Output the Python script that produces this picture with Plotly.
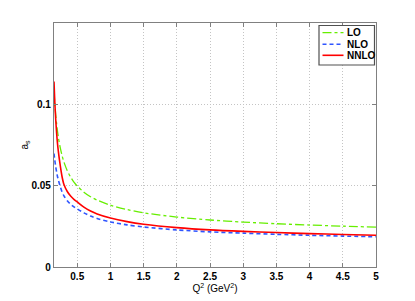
import plotly.graph_objects as go

# Q^2 sample points (GeV^2)
q2 = [0.15, 0.16, 0.175, 0.19, 0.2, 0.215, 0.24, 0.27, 0.3, 0.35, 0.4, 0.45, 0.5,
      0.6, 0.7, 0.8, 1.0, 1.25, 1.5, 2.0, 2.5, 3.0, 3.5, 4.0, 4.5, 5.0]

lo = [0.1080, 0.1016, 0.0939, 0.0878, 0.0844, 0.0800, 0.0741, 0.0687, 0.0645, 0.0592,
      0.0553, 0.0522, 0.0498, 0.0460, 0.0432, 0.0411, 0.0380, 0.0353, 0.0333, 0.0307,
      0.0289, 0.0276, 0.0266, 0.0258, 0.0251, 0.0245]

nlo = [0.0697, 0.0663, 0.0619, 0.0582, 0.0561, 0.0535, 0.0500, 0.0463, 0.0437, 0.0407,
       0.0386, 0.0370, 0.0357, 0.0333, 0.0313, 0.0298, 0.0277, 0.0259, 0.0246, 0.0228,
       0.0216, 0.0208, 0.0201, 0.0195, 0.0190, 0.0186]

nnlo = [0.1140, 0.1034, 0.0913, 0.0821, 0.0771, 0.0712, 0.0635, 0.0558, 0.0507, 0.0464,
        0.0436, 0.0416, 0.0400, 0.0368, 0.0344, 0.0326, 0.0301, 0.0279, 0.0263, 0.0242,
        0.0228, 0.0219, 0.0212, 0.0205, 0.0200, 0.0195]

series_names = ["LO", "NLO", "NNLO"]
x_ticks = [0.5, 1, 1.5, 2, 2.5, 3, 3.5, 4, 4.5, 5]
x_tick_labels = ["0.5", "1", "1.5", "2", "2.5", "3", "3.5", "4", "4.5", "5"]
y_ticks = [0, 0.05, 0.1]
y_tick_labels = ["0", "0.05", "0.1"]

colors = ["#66EE00", "#2F55FF", "#FF0000"]
dashes = ["dashdot", "4px,3px", "solid"]
widths = [1.3, 1.6, 1.6]

fig = go.Figure()
for name, ys, c, d, w in zip(series_names, [lo, nlo, nnlo], colors, dashes, widths):
    fig.add_trace(go.Scatter(x=q2, y=ys, mode="lines", name=name, showlegend=False,
                             line=dict(color=c, dash=d, width=w, shape="spline",
                                       smoothing=0.8)))

font_b = "Liberation Sans"
axis_common = dict(showline=True, linecolor="#808080", linewidth=1.3, mirror="ticks",
                   ticks="inside", ticklen=4, tickcolor="#808080",
                   showgrid=True, gridcolor="#c4c4c4", griddash="1px,2px", gridwidth=1,
                   zeroline=False,
                   tickfont=dict(family=font_b, size=10, color="#000000", weight="bold"))

fig.update_xaxes(range=[0.15, 5], tickvals=x_ticks, ticktext=x_tick_labels,
                 title=dict(text="Q<sup>2</sup> (GeV<sup>2</sup>)", standoff=2,
                            font=dict(family=font_b, size=10, color="#000")),
                 **axis_common)
fig.update_yaxes(range=[0, 0.15], tickvals=y_ticks, ticktext=y_tick_labels,
                 title=dict(text="a<sub>s</sub>", standoff=0,
                            font=dict(family=font_b, size=10, color="#000")),
                 **axis_common)

# page body has an 8px margin: compensate so the plot area lands where the reference has it
OFF = 8
W, H = 415, 301
l, r, t, b = 54, 39, 23, 34
pw, ph = W - l - r, H - t - b

def px(xp):
    return (xp - l) / pw

def py(yp):
    return (H - b - yp) / ph

# compact MATLAB-style legend box
x0, x1 = 319, 374.5
y0, y1 = 25.5, 65
fig.add_shape(type="rect", xref="paper", yref="paper", x0=px(x0), x1=px(x1),
              y0=py(y1), y1=py(y0), line=dict(color="#505050", width=1.2),
              fillcolor="white", layer="above")
ys_leg = [32.7, 44.2, 55.3]
for name, c, d, w, yl in zip(series_names, colors, dashes, widths, ys_leg):
    fig.add_shape(type="line", xref="paper", yref="paper", x0=px(322.5), x1=px(343.5),
                  y0=py(yl), y1=py(yl), line=dict(color=c, dash=d, width=w), layer="above")
    fig.add_annotation(xref="paper", yref="paper", x=px(344.5), y=py(yl), text=name,
                       showarrow=False, xanchor="left", yanchor="middle",
                       font=dict(family=font_b, size=10, color="#000", weight="bold"))

fig.update_layout(width=W - OFF, height=H - OFF,
                  margin=dict(l=l - OFF, r=r, t=t - OFF, b=b, autoexpand=False),
                  plot_bgcolor="white", paper_bgcolor="white")

fig.write_html("out.html")
